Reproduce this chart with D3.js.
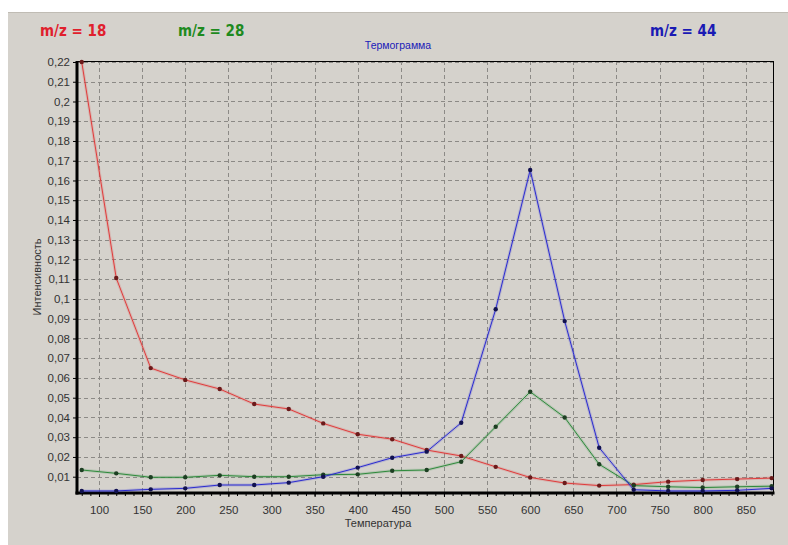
<!DOCTYPE html>
<html>
<head>
<meta charset="utf-8">
<script src="https://cdn.jsdelivr.net/npm/d3@7"></script>
<style>
	body { margin: 0; background: #fff; }
	svg { display: block; }
	.tick text { font-family: "Liberation Sans", Arial, sans-serif; font-size: 11.5px; fill: #333; }
	.legend { font-family: "DejaVu Sans Condensed", "DejaVu Sans", sans-serif; font-stretch: condensed; font-weight: bold; font-size: 15px; }
</style>
</head>
<body>
<svg id="mainsvg" width="788" height="545"></svg>
<script>
// температура, шаг 40
var temps = [80, 120, 160, 200, 240, 280, 320, 360, 400, 440, 480, 520, 560, 600, 640, 680, 720, 760, 800, 840, 880];
// m/z = 18
var mz18 = [0.22, 0.1106, 0.065, 0.059, 0.0544, 0.0468, 0.0443, 0.037, 0.0315, 0.029, 0.0235, 0.0205, 0.015, 0.0096, 0.0068, 0.0055, 0.006, 0.0075, 0.0083, 0.0088, 0.0093];
// m/z = 28
var mz28 = [0.0134, 0.0117, 0.0097, 0.0097, 0.0107, 0.010, 0.010, 0.011, 0.0112, 0.013, 0.0134, 0.0176, 0.0353, 0.053, 0.040, 0.0163, 0.0055, 0.0049, 0.0045, 0.0049, 0.0052];
// m/z = 44
var mz44 = [0.0028, 0.0028, 0.0036, 0.0041, 0.0058, 0.0058, 0.007, 0.010, 0.0146, 0.0196, 0.0227, 0.0373, 0.0948, 0.1653, 0.0888, 0.0247, 0.0034, 0.0028, 0.0028, 0.0031, 0.0041];

var seriesNames = ["m/z = 18", "m/z = 28", "m/z = 44"];
var xTicks = [100, 150, 200, 250, 300, 350, 400, 450, 500, 550, 600, 650, 700, 750, 800, 850];
var yTicks = [0.01, 0.02, 0.03, 0.04, 0.05, 0.06, 0.07, 0.08, 0.09, 0.1, 0.11, 0.12, 0.13, 0.14, 0.15, 0.16, 0.17, 0.18, 0.19, 0.2, 0.21, 0.22];

var lineColors = ["#e03c3c", "#2f8a3c", "#2b2bd0"];
var dotColors = ["#6b1a1a", "#1d3f22", "#11114f"];
var legendColors = ["#e0202c", "#1e8a1e", "#1a1ab4"];
var legendX = [40, 178, 650];

var svg = d3.select("#mainsvg");
var pLeft = 77, pRight = 774, pTop = 61, pBottom = 493;

// фон окна
svg.append("rect")
	.attr("x", 8).attr("y", 12)
	.attr("width", 780).attr("height", 533)
	.attr("fill", "#d5d2cc");
svg.append("line")
	.attr("x1", 8).attr("x2", 788).attr("y1", 12.5).attr("y2", 12.5)
	.attr("stroke", "#c0bcb4");

var x = d3.scaleLinear().domain([74.5, 882.7]).range([pLeft, pRight]);
var y = d3.scaleLinear().domain([0.00175, 0.2205]).range([pBottom, pTop]);

var fmt = function(d) { return d3.format(".2~f")(d).replace(".", ","); };

// сетка
var grid = svg.append("g").attr("class", "grid");
grid.selectAll("line.gx")
	.data(xTicks)
	.enter().append("line")
	.attr("class", "gx")
	.attr("x1", function(d) { return Math.round(x(d)) + 0.5; })
	.attr("x2", function(d) { return Math.round(x(d)) + 0.5; })
	.attr("y1", pTop).attr("y2", pBottom)
	.attr("stroke", "#8c8a86")
	.attr("stroke-dasharray", "4,3");
grid.selectAll("line.gy")
	.data(yTicks)
	.enter().append("line")
	.attr("class", "gy")
	.attr("y1", function(d) { return Math.round(y(d)) + 0.5; })
	.attr("y2", function(d) { return Math.round(y(d)) + 0.5; })
	.attr("x1", pLeft).attr("x2", pRight)
	.attr("stroke", "#8c8a86")
	.attr("stroke-dasharray", "4,3");

// рамка
svg.append("rect")
	.attr("x", pLeft).attr("y", pTop + 0.5)
	.attr("width", pRight - pLeft - 0.5).attr("height", pBottom - pTop)
	.attr("fill", "none")
	.attr("stroke", "#000");

// оси
var xAxis = svg.append("g")
	.attr("transform", "translate(0," + pBottom + ")")
	.call(d3.axisBottom(x).tickValues(xTicks).tickSize(4).tickPadding(9));
xAxis.select(".domain").remove();
svg.append("g")
	.attr("transform", "translate(0," + pBottom + ")")
	.call(d3.axisBottom(x).tickValues(d3.range(80, 890, 10)).tickSize(3).tickFormat(""))
	.select(".domain").remove();

var yAxis = svg.append("g")
	.attr("transform", "translate(" + pLeft + ",0)")
	.call(d3.axisLeft(y).tickValues(yTicks).tickSize(4).tickPadding(3).tickFormat(fmt));
yAxis.select(".domain").remove();

svg.append("line")
	.attr("x1", pLeft).attr("x2", pLeft).attr("y1", pTop).attr("y2", pBottom + 1.5)
	.attr("stroke", "#000").attr("stroke-width", 3);
svg.append("line")
	.attr("x1", pLeft - 1.5).attr("x2", pRight + 0.5).attr("y1", pBottom).attr("y2", pBottom)
	.attr("stroke", "#000").attr("stroke-width", 3);

// подписи осей
svg.append("text")
	.attr("x", 378).attr("y", 527)
	.attr("text-anchor", "middle")
	.style("font-family", "'Liberation Sans', Arial, sans-serif")
	.style("font-size", "11px")
	.attr("fill", "#333")
	.text("Температура");
svg.append("text")
	.attr("transform", "translate(41,277) rotate(-90)")
	.attr("text-anchor", "middle")
	.style("font-family", "'Liberation Sans', Arial, sans-serif")
	.style("font-size", "11px")
	.attr("fill", "#333")
	.text("Интенсивность");
svg.append("text")
	.attr("x", 398).attr("y", 49)
	.attr("text-anchor", "middle")
	.style("font-family", "'Liberation Sans', Arial, sans-serif")
	.style("font-size", "10.5px")
	.attr("fill", "#2020b8")
	.text("Термограмма");

// легенда
svg.selectAll("text.legend")
	.data(seriesNames)
	.enter().append("text")
	.attr("class", "legend")
	.attr("x", function(d, i) { return legendX[i]; })
	.attr("y", 36)
	.attr("fill", function(d, i) { return legendColors[i]; })
	.text(function(d) { return d; });

// линии
var series = [mz18, mz28, mz44];
var line = d3.line()
	.x(function(d, i) { return x(temps[i]); })
	.y(function(d) { return y(d); });

var lines = svg.append("g").attr("class", "lines");
series.forEach(function(vals, k) {
	lines.append("path")
		.attr("d", line(vals))
		.attr("fill", "none")
		.attr("stroke", lineColors[k])
		.attr("stroke-opacity", 0.18)
		.attr("stroke-width", 3);
	lines.append("path")
		.attr("d", line(vals))
		.attr("fill", "none")
		.attr("stroke", lineColors[k])
		.attr("stroke-width", 1);
});
series.forEach(function(vals, k) {
	lines.append("g")
		.selectAll("circle")
		.data(vals)
		.enter().append("circle")
		.attr("cx", function(d, i) { return x(temps[i]); })
		.attr("cy", function(d) { return y(d); })
		.attr("r", 2.2)
		.attr("fill", dotColors[k]);
});
</script>
</body>
</html>
